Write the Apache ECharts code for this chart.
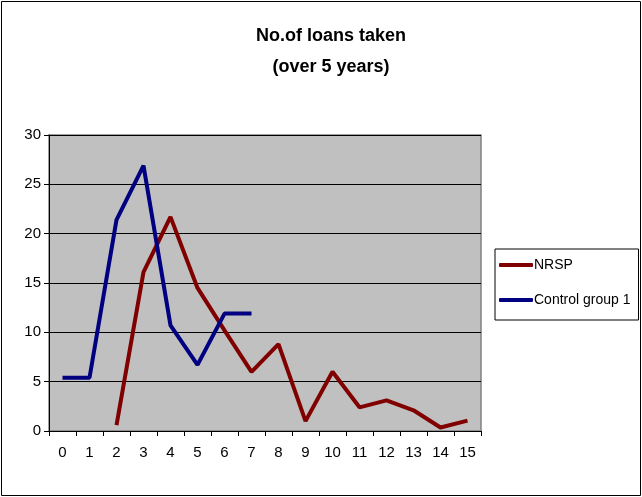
<!DOCTYPE html>
<html>
<head>
<meta charset="utf-8">
<script src="https://cdn.jsdelivr.net/npm/echarts@6/dist/echarts.min.js"></script>
<style>
  html, body { margin: 0; padding: 0; background: #fff; }
  #chart { width: 642px; height: 497px; }
</style>
</head>
<body>
<div id="chart"></div>
<script>
const categories = ['0', '1', '2', '3', '4', '5', '6', '7', '8', '9', '10', '11', '12', '13', '14', '15'];
const nrsp = [null, null, 0.6, 16.1, 21.7, 14.5, 10.2, 6.0, 8.8, 1.0, 6.0, 2.4, 3.1, 2.1, 0.35, 1.05];
const control1 = [5.4, 5.4, 21.4, 26.9, 10.7, 6.7, 11.9, 11.9, null, null, null, null, null, null, null, null];
const yTicks = [0, 5, 10, 15, 20, 25, 30];

const chart = echarts.init(document.getElementById('chart'));

chart.setOption({
  animation: false,
  backgroundColor: '#fff',
  textStyle: { fontFamily: 'Liberation Sans' },
  title: {
    text: 'No.of loans taken\n(over 5 years)',
    left: 326,
    top: 16,
    textAlign: 'center',
    textStyle: {
      fontSize: 18,
      fontWeight: 'bold',
      color: '#000',
      lineHeight: 31,
      fontFamily: 'Liberation Sans'
    }
  },
  graphic: [{
    type: 'rect',
    shape: { x: 1.5, y: 1.5, width: 639, height: 494 },
    style: { fill: null, stroke: '#000', lineWidth: 1 },
    silent: true
  }],
  legend: {
    orient: 'vertical',
    left: 495,
    top: 249,
    padding: [9, 8, 13, 4],
    itemGap: 21,
    itemWidth: 34,
    itemHeight: 4,
    borderColor: '#000',
    borderWidth: 1,
    icon: 'roundRect',
    textStyle: { fontSize: 14, color: '#000', padding: [0, 0, 0, -4] },
    data: ['NRSP', 'Control group 1']
  },
  grid: {
    left: 49,
    right: 161,
    top: 135,
    bottom: 66,
    show: true,
    backgroundColor: '#c0c0c0',
    borderColor: '#808080',
    borderWidth: 1.5
  },
  xAxis: {
    type: 'category',
    data: categories,
    boundaryGap: true,
    axisLine: { lineStyle: { color: '#000', width: 1 } },
    axisTick: { show: true, alignWithLabel: false, length: 5, lineStyle: { color: '#000' } },
    axisLabel: { fontSize: 15, color: '#000', margin: 14 },
    splitLine: { show: false }
  },
  yAxis: {
    type: 'value',
    min: yTicks[0],
    max: yTicks[yTicks.length - 1],
    interval: 5,
    axisLine: { show: true, lineStyle: { color: '#000', width: 1 } },
    axisTick: { show: true, length: 5, lineStyle: { color: '#000' } },
    axisLabel: { fontSize: 15, color: '#000', margin: 8 },
    splitLine: { show: true, lineStyle: { color: '#000', width: 1 } }
  },
  series: [
    {
      name: 'NRSP',
      type: 'line',
      data: nrsp,
      symbol: 'none',
      connectNulls: false,
      color: '#800000',
      lineStyle: { width: 4, color: '#800000' }
    },
    {
      name: 'Control group 1',
      type: 'line',
      data: control1,
      symbol: 'none',
      connectNulls: false,
      color: '#000080',
      lineStyle: { width: 4, color: '#000080' }
    }
  ]
});
</script>
</body>
</html>
